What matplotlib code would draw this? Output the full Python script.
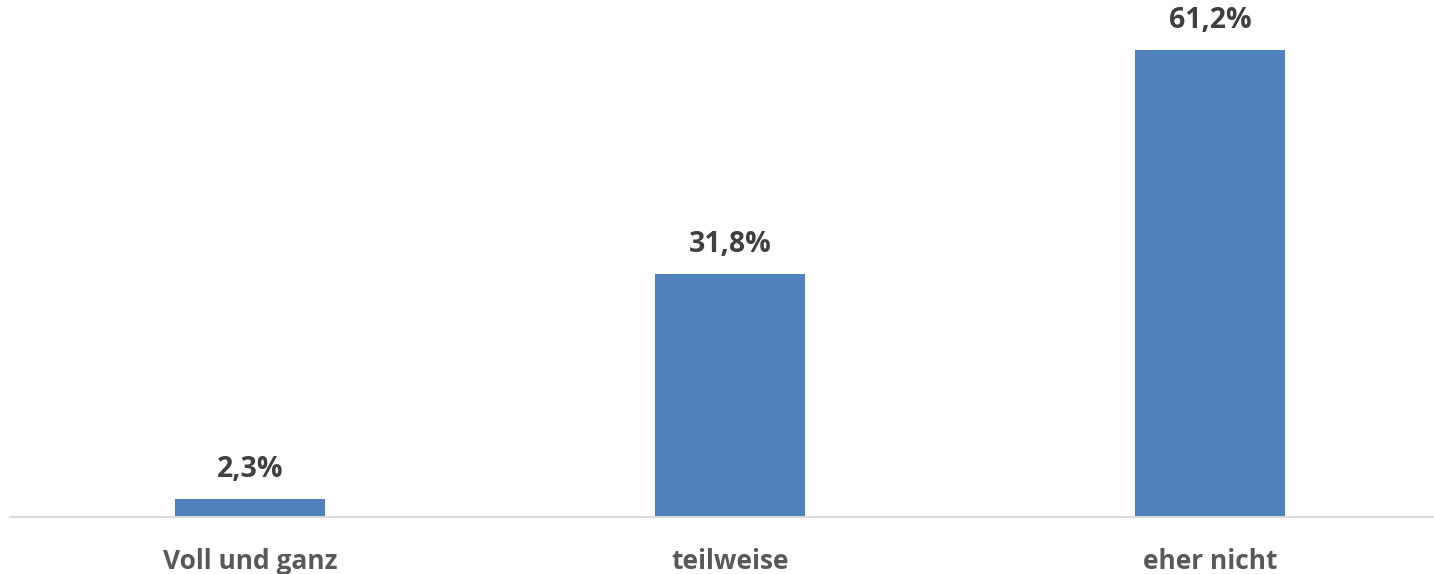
import matplotlib.pyplot as plt

# Data
categories = ['Voll und ganz', 'teilweise', 'eher nicht']
values = [2.3, 31.8, 61.2]
labels = ['2,3%', '31,8%', '61,2%']

plt.rcParams['font.family'] = ['Open Sans', 'DejaVu Sans']

fig = plt.figure(figsize=(14.34, 5.74), dpi=100)
# axes spans 480 px per category, baseline at y=517 px
ax = fig.add_axes([10 / 1434, 57 / 574, 1440 / 1434, 517 / 574])

x = range(len(categories))
ax.bar(x, values, width=150 / 480, color='#4f81bd', zorder=2)

for i, (v, lab) in enumerate(zip(values, labels)):
    ax.annotate(lab, (i, v), xytext=(0, 11), textcoords='offset points',
                ha='center', va='bottom', fontsize=20.5, fontweight='bold',
                color='#404040')

ax.set_xlim(-0.5, 2.5)
ax.set_ylim(0, 517 / 7.63)

ax.set_xticks(list(x))
ax.set_xticklabels(categories, fontsize=19, fontweight='bold', color='#595959')
ax.tick_params(axis='x', length=0, pad=22)
ax.set_yticks([])

for s in ['top', 'right', 'left']:
    ax.spines[s].set_visible(False)
ax.spines['bottom'].set_color('#d9d9d9')
ax.spines['bottom'].set_linewidth(1.5)

fig.savefig('out.png', dpi=100)
